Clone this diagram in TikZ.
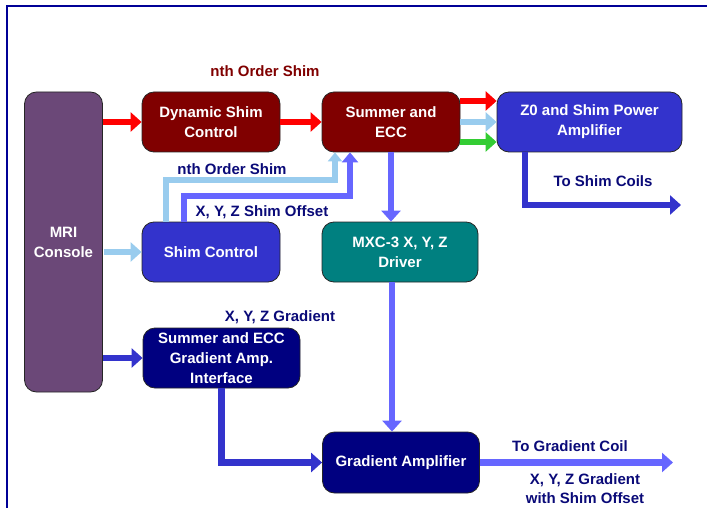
\documentclass[tikz,border=0pt]{standalone}
\usepackage{fontspec}
\setmainfont{Liberation Sans}
\usetikzlibrary{arrows.meta,calc}
\definecolor{mripurple}{RGB}{107,72,120}
\definecolor{darkred}{RGB}{128,0,0}
\definecolor{boxblue}{RGB}{51,51,204}
\definecolor{boxteal}{RGB}{0,128,128}
\definecolor{boxnavy}{RGB}{0,0,128}
\definecolor{labnavy}{RGB}{10,10,120}
\definecolor{framenavy}{RGB}{0,0,150}
\definecolor{arred}{RGB}{255,0,0}
\definecolor{arlight}{RGB}{153,204,238}
\definecolor{argreen}{RGB}{51,204,51}
\definecolor{armid}{RGB}{102,102,255}
\definecolor{arblue}{RGB}{51,51,204}
\begin{document}
\begin{tikzpicture}[x=1pt,y=-1pt,
  box/.style={draw=black!85, line width=0.8pt, rounded corners=12pt, text=white,
    font=\bfseries\fontsize{15}{20}\selectfont, align=center, inner sep=0pt},
  lbl/.style={font=\bfseries\fontsize{15}{19}\selectfont, text=labnavy, align=center, inner sep=0pt},
  conn/.style={line width=6.5pt, line join=miter, -{Triangle[length=11pt,width=19pt]}},
  sconn/.style={line width=6pt, line join=miter, -{Triangle[length=10pt,width=16pt]}}]
\useasboundingbox (0,0) rectangle (707,508);
\draw[framenavy, line width=2pt] (6.5,510) -- (6.5,6.5) -- (710,6.5);

\node[box, fill=mripurple, minimum width=78pt, minimum height=300pt] (mri) at (63.5,242) {MRI\\Console};
\node[box, fill=darkred, minimum width=138pt, minimum height=60pt] (dyn) at (211,122) {Dynamic Shim\\Control};
\node[box, fill=darkred, minimum width=138pt, minimum height=60pt] (sum) at (391,122) {Summer and\\ECC};
\node[box, fill=boxblue, minimum width=185pt, minimum height=60pt] (z0) at (589.5,122) {Z0 and Shim Power\\Amplifier};
\node[box, fill=boxblue, minimum width=138pt, minimum height=60pt] (shim) at (211,252) {Shim Control};
\node[box, fill=boxteal, minimum width=156pt, minimum height=60pt] (mxc) at (400,252) {MXC-3 X, Y, Z\\Driver};
\node[box, fill=boxnavy, minimum width=157pt, minimum height=60pt] (sgi) at (221.5,358) {Summer and ECC\\Gradient Amp.\\Interface};
\node[box, fill=boxnavy, minimum width=157pt, minimum height=61pt] (ga) at (401,462.5) {Gradient Amplifier};

\node[lbl, text=darkred] (l1) at (265,71) {nth Order Shim};
\node[lbl] (l2) at (232,169) {nth Order Shim};
\node[lbl] (l3) at (262,212) {X, Y, Z Shim Offset};
\node[lbl] (l4) at (280,317) {X, Y, Z Gradient};
\node[lbl] (l5) at (603,181) {To Shim Coils};
\node[lbl] (l6) at (570,446) {To Gradient Coil};
\node[lbl] (l7) at (585,489) {X, Y, Z Gradient\\with Shim Offset};

\coordinate (outS) at (681,205);
\coordinate (outG) at (673,462.5);

% arrows
\draw[conn, arred] (mri.east |- dyn.west) -- (dyn.west);
\draw[conn, arred] (dyn.east) -- (sum.west);
\draw[conn, arred] ($(sum.east)+(0,-21)$) -- ($(z0.west)+(0,-21)$);
\draw[conn, arlight] (sum.east) -- (z0.west);
\draw[conn, argreen] ($(sum.east)+(0,20)$) -- ($(z0.west)+(0,20)$);
\draw[conn, arlight] ($(mri.east |- shim.west)+(1,0)$) -- (shim.west);
\draw[conn, arblue] (mri.east |- sgi.west) -- (sgi.west);

\draw[line width=6pt, line join=miter, arlight, -{Triangle[length=9pt,width=14pt]}] ($(shim.north)+(-45,0)$) |- ($(sum.south)+(-56,28)$) -- ($(sum.south)+(-56,0)$);
\draw[sconn, armid] ($(shim.north)+(-27,0)$) |- ($(sum.south)+(-41,44)$) -- ($(sum.south)+(-41,0)$);

\draw[conn, armid] (sum.south) -- (sum.south |- mxc.north);
\draw[conn, armid] ($(sum.south |- mxc.south)+(1,0)$) -- ($(sum.south |- ga.north)+(1,0)$);
\draw[conn, arblue] (sgi.south) |- (ga.west);
\draw[conn, armid] (ga.east) -- (outG);
\draw[conn, arblue] ($(z0.south)+(-64.5,0)$) |- (outS);
\end{tikzpicture}
\end{document}
